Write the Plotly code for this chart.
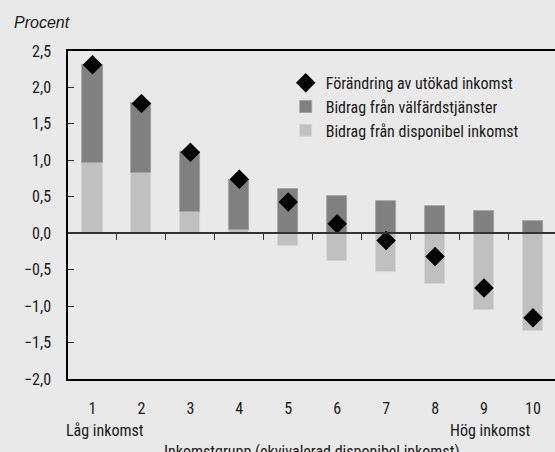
import plotly.graph_objects as go

groups = [1, 2, 3, 4, 5, 6, 7, 8, 9, 10]
tick_labels = ["1", "2", "3", "4", "5", "6", "7", "8", "9", "10"]
disp_income = [0.96, 0.82, 0.29, 0.05, -0.175, -0.385, -0.535, -0.70, -1.05, -1.345]
welfare = [1.35, 0.96, 0.82, 0.68, 0.60, 0.505, 0.437, 0.38, 0.30, 0.17]
total = [2.31, 1.78, 1.11, 0.74, 0.43, 0.13, -0.10, -0.32, -0.75, -1.16]
y_ticks = [-2.0, -1.5, -1.0, -0.5, 0.0, 0.5, 1.0, 1.5, 2.0, 2.5]

BG = "#e9e9e9"
FONT = "Roboto Condensed, DejaVu Sans Condensed, sans-serif"
TXT = "#1a1a1a"

fig = go.Figure()
fig.add_trace(go.Bar(
    x=groups, y=disp_income, name="Bidrag från disponibel inkomst",
    marker=dict(color="#c0c0c0", line=dict(width=0.8, color="#d4d4d4")),
    width=0.41, legendrank=3,
))
fig.add_trace(go.Bar(
    x=groups, y=welfare, name="Bidrag från välfärdstjänster",
    marker=dict(color="#808080", line=dict(width=0.8, color="#a0a0a0")),
    width=0.41, legendrank=2,
))
fig.add_trace(go.Scatter(
    x=groups, y=total, mode="markers", name="Förändring av utökad inkomst",
    marker=dict(symbol="diamond", size=15, color="black", line=dict(width=0)),
    legendrank=1,
))
# invisible trace carrying the zero-line axis ticks
fig.add_trace(go.Scatter(x=[0.5], y=[0], xaxis="x2", mode="markers",
                         marker=dict(opacity=0), showlegend=False, hoverinfo="skip"))

fig.update_layout(
    width=555, height=452,
    margin=dict(l=67.5, r=0, t=51, b=73),
    paper_bgcolor=BG, plot_bgcolor=BG,
    barmode="relative", bargap=0,
    separators=", ",
    font=dict(family=FONT, size=16, color=TXT),
    showlegend=True,
    legend=dict(
        x=0.447, y=0.955, xanchor="left", yanchor="top",
        bgcolor="rgba(0,0,0,0)", font=dict(family=FONT, size=16, color=TXT),
        traceorder="normal", tracegroupgap=0, itemwidth=30,
    ),
    xaxis=dict(
        range=[0.5, 10.45], tickvals=groups, ticktext=tick_labels,
        showline=True, linecolor="black", linewidth=1.5, mirror=True,
        ticks="", showgrid=False, zeroline=False, ticklabelstandoff=14,
        tickfont=dict(family=FONT, size=16, color=TXT),
    ),
    xaxis2=dict(
        range=[0.5, 10.45], overlaying="x", anchor="free", position=0.4444,
        tickvals=[1.5, 2.5, 3.5, 4.5, 5.5, 6.5, 7.5, 8.5, 9.5],
        ticks="outside", ticklen=6, tickwidth=1.2, tickcolor="#333",
        showticklabels=False, showline=True, linecolor="#333", linewidth=1.5,
        showgrid=False, zeroline=False,
    ),
    yaxis=dict(
        range=[-2.0, 2.5], tickvals=y_ticks, tickformat=".1f",
        showline=True, linecolor="black", linewidth=1.5,
        ticks="inside", ticklen=6, tickwidth=1.2, tickcolor="#333",
        showgrid=False, zeroline=False, ticklabelstandoff=12,
        tickfont=dict(family=FONT, size=16, color=TXT),
    ),
    annotations=[
        dict(text="<i>Procent</i>", xref="paper", yref="paper", x=-0.114, y=1.0,
             xanchor="left", yanchor="bottom", yshift=18, showarrow=False,
             font=dict(family="Liberation Sans, Arial, sans-serif", size=16, color=TXT)),
        dict(text="Låg inkomst", xref="paper", yref="paper", x=-0.009, y=0,
             xanchor="left", yanchor="top", yshift=-40, showarrow=False,
             font=dict(family=FONT, size=16, color=TXT)),
        dict(text="Hög inkomst", xref="x", yref="paper", x=10.0, y=0,
             xanchor="right", yanchor="top", yshift=-40, showarrow=False,
             font=dict(family=FONT, size=16, color=TXT)),
        dict(text="Inkomstgrupp (ekvivalerad disponibel inkomst)", xref="paper",
             yref="paper", x=0.5, y=0, xanchor="center", yanchor="top",
             yshift=-61, showarrow=False,
             font=dict(family=FONT, size=16, color=TXT)),
    ],
)

fig.write_html("out.html", config={"displayModeBar": False},
               post_script="document.body.style.margin='0px';")
